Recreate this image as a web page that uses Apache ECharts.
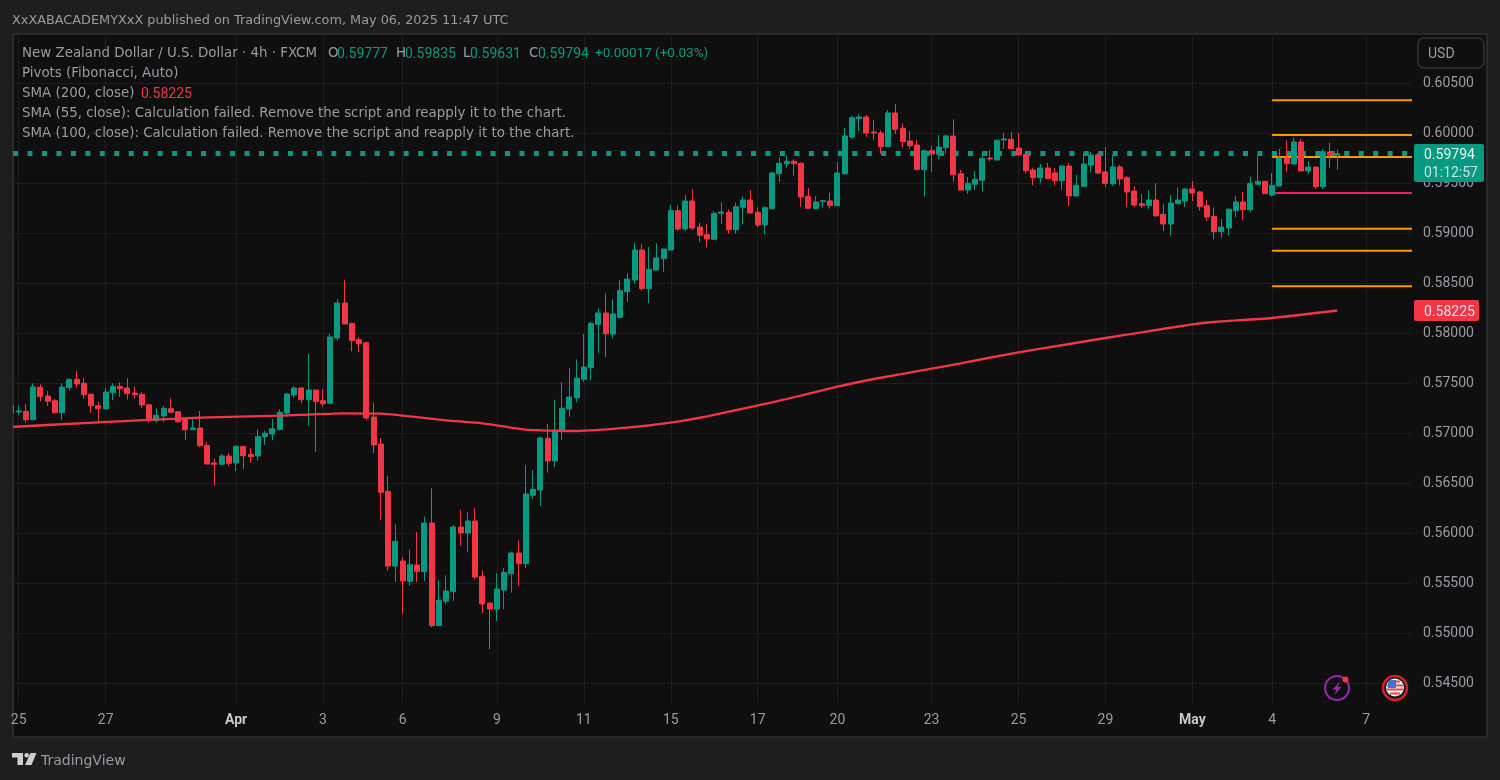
<!DOCTYPE html>
<html style="height: 100%">

<head>
  <meta charset="UTF-8" />
  <title>NZD/USD 4h</title>
  <script src="https://cdn.jsdelivr.net/npm/echarts@6/dist/echarts.min.js"></script>
  <script>
    // candles, oldest first
    const opens = [
      0.57277, 0.57210, 0.57217, 0.57133, 0.57457, 0.57370, 0.57323, 0.57203, 0.57453, 0.57537,
      0.57497, 0.57387, 0.57273, 0.57240, 0.57403, 0.57467, 0.57450, 0.57400, 0.57387, 0.57283,
      0.57123, 0.57170, 0.57243, 0.57213, 0.57140, 0.57033, 0.57050, 0.56877, 0.56700, 0.56687,
      0.56770, 0.56700, 0.56867, 0.56787, 0.56770, 0.56963, 0.56990, 0.57037, 0.57200, 0.57380,
      0.57450, 0.57333, 0.57430, 0.57323, 0.57297, 0.57950, 0.58300, 0.58097, 0.57933, 0.57903,
      0.57160, 0.56890, 0.56417, 0.55670, 0.55720, 0.55517, 0.55680, 0.55613, 0.56100, 0.55073,
      0.55317, 0.55413, 0.56060, 0.56000, 0.56120, 0.55567, 0.55300, 0.55240, 0.55430, 0.55593,
      0.55800, 0.55693, 0.56377, 0.56430, 0.56947, 0.56720, 0.57023, 0.57240, 0.57353, 0.57537,
      0.57653, 0.58087, 0.58200, 0.57990, 0.58153, 0.58413, 0.58530, 0.58830, 0.58443, 0.58630,
      0.58743, 0.58830, 0.59223, 0.59040, 0.59320, 0.59060, 0.58983, 0.58937, 0.59197, 0.59207,
      0.59033, 0.59257, 0.59330, 0.59207, 0.59083, 0.59243, 0.59593, 0.59693, 0.59717, 0.59697,
      0.59367, 0.59243, 0.59313, 0.59320, 0.59273, 0.59593, 0.59960, 0.60143, 0.60160, 0.60010,
      0.60000, 0.59863, 0.60200, 0.60047, 0.59920, 0.59880, 0.59633, 0.59823, 0.59787, 0.59853,
      0.59970, 0.59593, 0.59430, 0.59487, 0.59527, 0.59750, 0.59730, 0.59930, 0.59937, 0.59850,
      0.59787, 0.59630, 0.59553, 0.59650, 0.59600, 0.59523, 0.59670, 0.59370, 0.59467, 0.59680,
      0.59780, 0.59610, 0.59493, 0.59660, 0.59553, 0.59420, 0.59293, 0.59273, 0.59330, 0.59187,
      0.59090, 0.59293, 0.59320, 0.59440, 0.59410, 0.59273, 0.59167, 0.59013, 0.59050, 0.59223,
      0.59310, 0.59233, 0.59487, 0.59517, 0.59380, 0.59470, 0.59750, 0.59690, 0.59910, 0.59620,
      0.59660, 0.59463, 0.59810, 0.59777
    ];
    const closes = [
      0.57203, 0.57220, 0.57133, 0.57460, 0.57363, 0.57317, 0.57203, 0.57460, 0.57537, 0.57490,
      0.57383, 0.57273, 0.57243, 0.57410, 0.57467, 0.57443, 0.57393, 0.57383, 0.57280, 0.57130,
      0.57177, 0.57247, 0.57207, 0.57113, 0.57033, 0.57050, 0.56873, 0.56690, 0.56687, 0.56770,
      0.56697, 0.56867, 0.56773, 0.56763, 0.56963, 0.56997, 0.57043, 0.57207, 0.57390, 0.57450,
      0.57333, 0.57430, 0.57313, 0.57293, 0.57960, 0.58300, 0.58090, 0.57923, 0.57893, 0.57150,
      0.56880, 0.56407, 0.55670, 0.55917, 0.55520, 0.55683, 0.55617, 0.56100, 0.55073, 0.55327,
      0.55420, 0.56060, 0.56000, 0.56120, 0.55560, 0.55290, 0.55240, 0.55440, 0.55607, 0.55800,
      0.55693, 0.56390, 0.56437, 0.56950, 0.56720, 0.57030, 0.57247, 0.57360, 0.57547, 0.57660,
      0.58097, 0.58200, 0.57993, 0.58190, 0.58423, 0.58540, 0.58830, 0.58443, 0.58637, 0.58750,
      0.58840, 0.59223, 0.59040, 0.59320, 0.59050, 0.58977, 0.58940, 0.59197, 0.59210, 0.59033,
      0.59263, 0.59330, 0.59200, 0.59080, 0.59253, 0.59600, 0.59697, 0.59717, 0.59693, 0.59360,
      0.59247, 0.59310, 0.59323, 0.59273, 0.59600, 0.59970, 0.60153, 0.60160, 0.60000, 0.60000,
      0.59863, 0.60200, 0.60037, 0.59913, 0.59873, 0.59633, 0.59823, 0.59790, 0.59860, 0.59970,
      0.59583, 0.59430, 0.59497, 0.59537, 0.59747, 0.59740, 0.59927, 0.59940, 0.59843, 0.59780,
      0.59623, 0.59553, 0.59650, 0.59543, 0.59523, 0.59670, 0.59370, 0.59477, 0.59690, 0.59780,
      0.59600, 0.59497, 0.59660, 0.59540, 0.59410, 0.59280, 0.59273, 0.59330, 0.59173, 0.59090,
      0.59300, 0.59330, 0.59440, 0.59400, 0.59263, 0.59160, 0.59013, 0.59060, 0.59237, 0.59310,
      0.59233, 0.59497, 0.59517, 0.59393, 0.59477, 0.59750, 0.59693, 0.59910, 0.59620, 0.59660,
      0.59463, 0.59813, 0.59780, 0.59794
    ];
    const lows = [
      0.57190, 0.57180, 0.57103, 0.57133, 0.57317, 0.57270, 0.57203, 0.57133, 0.57423, 0.57453,
      0.57343, 0.57200, 0.57103, 0.57240, 0.57327, 0.57363, 0.57333, 0.57343, 0.57250, 0.57103,
      0.57103, 0.57113, 0.57197, 0.57103, 0.56930, 0.57030, 0.56860, 0.56687, 0.56473, 0.56687,
      0.56667, 0.56620, 0.56640, 0.56703, 0.56723, 0.56880, 0.56927, 0.57023, 0.57163, 0.57350,
      0.57300, 0.57073, 0.56813, 0.57263, 0.57297, 0.57923, 0.58090, 0.57817, 0.57807, 0.57130,
      0.56800, 0.56127, 0.55623, 0.55510, 0.55190, 0.55470, 0.55510, 0.55520, 0.55057, 0.55073,
      0.55287, 0.55323, 0.55873, 0.55807, 0.55540, 0.55200, 0.54840, 0.55120, 0.55237, 0.55403,
      0.55470, 0.55650, 0.56340, 0.56270, 0.56603, 0.56660, 0.56930, 0.57163, 0.57307, 0.57510,
      0.57527, 0.57797, 0.57760, 0.57943, 0.58153, 0.58310, 0.58493, 0.58423, 0.58300, 0.58630,
      0.58610, 0.58830, 0.59020, 0.59020, 0.59030, 0.58907, 0.58860, 0.58930, 0.59090, 0.58993,
      0.58993, 0.59090, 0.59197, 0.59060, 0.58993, 0.59237, 0.59507, 0.59650, 0.59573, 0.59260,
      0.59247, 0.59237, 0.59253, 0.59243, 0.59273, 0.59580, 0.59940, 0.60020, 0.59960, 0.59930,
      0.59793, 0.59863, 0.59990, 0.59853, 0.59843, 0.59633, 0.59363, 0.59613, 0.59740, 0.59793,
      0.59513, 0.59430, 0.59393, 0.59430, 0.59413, 0.59720, 0.59730, 0.59840, 0.59837, 0.59780,
      0.59593, 0.59477, 0.59503, 0.59543, 0.59477, 0.59430, 0.59270, 0.59370, 0.59467, 0.59610,
      0.59593, 0.59457, 0.59473, 0.59477, 0.59260, 0.59260, 0.59250, 0.59237, 0.59160, 0.59020,
      0.58973, 0.59293, 0.59260, 0.59320, 0.59223, 0.59120, 0.58937, 0.58953, 0.58973, 0.59160,
      0.59130, 0.59207, 0.59487, 0.59393, 0.59363, 0.59470, 0.59613, 0.59690, 0.59620, 0.59593,
      0.59440, 0.59440, 0.59653, 0.59631
    ];
    const highs = [
      0.57290, 0.57277, 0.57287, 0.57497, 0.57487, 0.57420, 0.57343, 0.57497, 0.57543, 0.57620,
      0.57547, 0.57397, 0.57313, 0.57450, 0.57497, 0.57507, 0.57547, 0.57467, 0.57410, 0.57283,
      0.57247, 0.57270, 0.57350, 0.57213, 0.57153, 0.57160, 0.57220, 0.56907, 0.56743, 0.56790,
      0.56800, 0.56877, 0.56867, 0.56850, 0.57037, 0.57023, 0.57140, 0.57237, 0.57400, 0.57470,
      0.57460, 0.57790, 0.57430, 0.57440, 0.57990, 0.58340, 0.58530, 0.58097, 0.57960, 0.57913,
      0.57307, 0.56950, 0.56570, 0.56087, 0.55760, 0.55837, 0.56010, 0.56167, 0.56447, 0.55527,
      0.55577, 0.56080, 0.56233, 0.56207, 0.56253, 0.55627, 0.55300, 0.55600, 0.55647, 0.55810,
      0.55927, 0.56677, 0.56630, 0.56963, 0.57090, 0.57333, 0.57507, 0.57647, 0.57737, 0.57990,
      0.58113, 0.58247, 0.58393, 0.58337, 0.58527, 0.58600, 0.58907, 0.58890, 0.58860, 0.58897,
      0.58840, 0.59283, 0.59273, 0.59380, 0.59440, 0.59100, 0.59090, 0.59217, 0.59307, 0.59237,
      0.59303, 0.59367, 0.59430, 0.59257, 0.59267, 0.59613, 0.59757, 0.59777, 0.59737, 0.59707,
      0.59450, 0.59370, 0.59323, 0.59400, 0.59710, 0.60050, 0.60170, 0.60190, 0.60180, 0.60133,
      0.60027, 0.60230, 0.60290, 0.60097, 0.60020, 0.59930, 0.59833, 0.59873, 0.59980, 0.59980,
      0.60137, 0.59630, 0.59560, 0.59620, 0.59807, 0.59827, 0.59937, 0.60000, 0.60010, 0.60000,
      0.59823, 0.59653, 0.59690, 0.59700, 0.59650, 0.59670, 0.59700, 0.59580, 0.59800, 0.59810,
      0.59800, 0.59860, 0.59780, 0.59680, 0.59570, 0.59470, 0.59390, 0.59430, 0.59497, 0.59287,
      0.59380, 0.59457, 0.59450, 0.59517, 0.59420, 0.59330, 0.59257, 0.59140, 0.59247, 0.59370,
      0.59410, 0.59563, 0.59770, 0.59517, 0.59600, 0.59843, 0.59927, 0.59957, 0.59940, 0.59720,
      0.59660, 0.59837, 0.59900, 0.59835
    ];

    // SMA 200, sampled along the curve: candle number and value
    const smaBars = [0, 12, 26, 37, 46, 51, 60, 65, 71, 73, 78, 85, 91, 96, 105, 107, 114, 119, 127, 131, 139, 146, 151, 156, 163, 166, 174, 183];
    const smaValues = [
      0.57060, 0.57107, 0.57153, 0.57173, 0.57197, 0.57193, 0.57127, 0.57097, 0.57033, 0.57027,
      0.57020, 0.57053, 0.57103, 0.57166, 0.57307, 0.57340, 0.57463, 0.57540, 0.57643, 0.57697,
      0.57807, 0.57890, 0.57950, 0.58007, 0.58087, 0.58110, 0.58150, 0.58225
    ];

    const pivotLevels = [0.60327, 0.59980, 0.59760, 0.59400, 0.59043, 0.58823, 0.58467];
    const pivotMiddle = 0.59400;
    const pivotStartBar = 174;
    const lastPrice = 0.59794;

    const priceTicks = [0.605, 0.6, 0.595, 0.59, 0.585, 0.58, 0.575, 0.57, 0.565, 0.56, 0.555, 0.55, 0.545];
    const dateBars = [1, 13, 31, 43, 54, 67, 79, 91, 103, 114, 127, 139, 151, 163, 174, 187];
    const dateLabels = ['25', '27', 'Apr', '3', '6', '9', '11', '15', '17', '20', '23', '25', '29', 'May', '4', '7'];

    const UP = '#089981';
    const DOWN = '#f23645';
    const TEXT = '#9a9ca1';
    const FONT = '"DejaVu Sans", sans-serif';
    const NUM_FONT = 'Roboto, sans-serif';
    const X_MIN = 0.214;
    const X_MAX = 193.17;

    function label(x, y, text, fill, font) {
      return {
        type: 'text', x: x, y: y, z: 20,
        style: { text: text, fill: fill || TEXT, font: font || '13.4px ' + FONT, textVerticalAlign: 'middle' }
      };
    }

    function num(x, y, text, fill) {
      return label(x, y, text, fill, '14px ' + NUM_FONT);
    }

    function box(x, y, w, h, fill, stroke, r, z) {
      return {
        type: 'rect', z: z === undefined ? 15 : z,
        shape: { x: x, y: y, width: w, height: h, r: r || 0 },
        style: { fill: fill, stroke: stroke || null, lineWidth: stroke ? 2 : 0 }
      };
    }

    function flagStripes() {
      const stripes = [];
      [[-6.5, 9.5], [-2.5, 16], [1.5, 16], [5.5, 10]].forEach(e => {
        stripes.push(box(1395 - e[1] / 2, 688 + e[0] - 1, e[1], 2, '#e5484d', null, 0, 17));
      });
      return stripes;
    }

    function renderChart() {
      const myChart = echarts.init(document.getElementById('container'), null, { renderer: 'canvas' });

      const graphics = [
        // pane and price scale background
        box(13, 34, 1474, 703, '#0f0f0f', '#2a2a2a', 0, -10),
        // hides the first candle where it leaves the pane
        box(0, 34, 12, 670, '#1e1e1e', null, 0, 10),
        box(12, 34, 1, 670, '#2a2a2a', null, 0, 10),
        // header
        label(12, 21, 'XxXABACADEMYXxX published on TradingView.com, May 06, 2025 11:47 UTC', TEXT, '12.85px ' + FONT),
        label(22, 54, 'New Zealand Dollar / U.S. Dollar · 4h · FXCM'),
        label(328, 54, 'O'), num(337, 54, '0.59777', UP),
        label(396, 54, 'H'), num(405, 54, '0.59835', UP),
        label(463, 54, 'L'), num(470, 54, '0.59631', UP),
        label(529, 54, 'C'), num(538, 54, '0.59794', UP),
        label(595, 54, '+0.00017 (+0.03%)', UP, '13.5px ' + NUM_FONT),
        label(22, 74, 'Pivots (Fibonacci, Auto)'),
        label(22, 94, 'SMA (200, close)'),
        num(141, 94, '0.58225', DOWN),
        label(22, 114, 'SMA (55, close): Calculation failed. Remove the script and reapply it to the chart.'),
        label(22, 134, 'SMA (100, close): Calculation failed. Remove the script and reapply it to the chart.'),
        // currency button
        box(1418, 38, 66, 30, '#0f0f0f', '#2a2a2a', 6),
        num(1428, 54, 'USD'),
        // last value tags
        box(1414, 144, 70, 38, UP, null, 2),
        num(1424, 155, '0.59794', '#e8f5f2'),
        num(1424, 173, '01:12:57', '#c4e6df'),
        box(1414, 300, 65, 21, DOWN, null, 2),
        num(1424, 312, '0.58225', '#fbe3e5'),
        // bolt icon
        { type: 'circle', z: 16, shape: { cx: 1337, cy: 688, r: 12 }, style: { fill: 'none', stroke: '#9c27b0', lineWidth: 2 } },
        { type: 'polygon', z: 16, shape: { points: [[1340, 681.5], [1332.5, 689.5], [1336.3, 689.5], [1334.5, 695], [1341.5, 687], [1337.7, 687]] }, style: { fill: '#9c27b0' } },
        { type: 'circle', z: 17, shape: { cx: 1345.5, cy: 679.5, r: 3 }, style: { fill: '#f23645' } },
        // flag icon
        { type: 'circle', z: 16, shape: { cx: 1395, cy: 688, r: 12 }, style: { fill: '#161616', stroke: '#d3202f', lineWidth: 2.5 } },
        { type: 'circle', z: 16, shape: { cx: 1395, cy: 687.5, r: 9 }, style: { fill: '#f2f2f2' } },
        ...flagStripes(),
        { type: 'rect', z: 18, shape: { x: 1388, y: 680, width: 8, height: 8, r: [3, 0, 0, 0] }, style: { fill: '#4a6fd0' } },
        // footer logo
        box(12, 753, 11, 4.5, '#cfcfcf'),
        box(17.5, 753, 5.5, 12, '#cfcfcf'),
        { type: 'circle', z: 15, shape: { cx: 26.7, cy: 755.3, r: 2.3 }, style: { fill: '#cfcfcf' } },
        { type: 'polygon', z: 15, shape: { points: [[30.5, 753], [36.5, 753], [31.5, 765], [25, 765]] }, style: { fill: '#cfcfcf' } },
        label(41, 761, 'TradingView', TEXT, '14px ' + FONT)
      ];

      const series = [
        {
          type: 'line', name: 'last', z: 1, silent: true, showSymbol: false,
          data: [[X_MIN, lastPrice], [X_MAX, lastPrice]],
          lineStyle: { color: UP, width: 5, type: [5, 9.47] }
        }
      ];

      pivotLevels.forEach(level => {
        series.push({
          type: 'line', z: 2, silent: true, showSymbol: false,
          data: [[pivotStartBar, level], [X_MAX + 0.3, level]],
          lineStyle: { color: level === pivotMiddle ? '#e91e63' : '#ff9800', width: 2 }
        });
      });

      series.push({
        type: 'candlestick', z: 3, barWidth: 5.5,
        encode: { x: 0, y: [1, 2, 3, 4] },
        data: opens.map((o, i) => [i, o, closes[i], lows[i], highs[i]]),
        itemStyle: { color: UP, color0: DOWN, borderColor: UP, borderColor0: DOWN, borderWidth: 1 }
      });

      series.push({
        type: 'line', name: 'SMA 200', z: 4, silent: true, showSymbol: false, smooth: 0.2,
        data: smaBars.map((b, i) => [b, smaValues[i]]),
        lineStyle: { color: DOWN, width: 2.3 }
      });

      const gridLine = { show: true, lineStyle: { color: '#1e1e1e', width: 1 } };

      myChart.setOption({
        animation: false,
        backgroundColor: '#1e1e1e',
        textStyle: { fontFamily: NUM_FONT },
        grid: { left: 13, top: 34, width: 1398, height: 669 },
        xAxis: {
          type: 'value', min: X_MIN, max: X_MAX,
          axisLine: { show: false },
          axisTick: { show: false, customValues: dateBars },
          splitLine: gridLine,
          axisLabel: {
            customValues: dateBars,
            color: TEXT, fontSize: 14, fontFamily: NUM_FONT, margin: 10, hideOverlap: false,
            showMinLabel: true, showMaxLabel: true,
            formatter: v => {
              const text = dateLabels[dateBars.indexOf(v)];
              return text === 'Apr' || text === 'May' ? `{b|${text}}` : text;
            },
            rich: { b: { fontWeight: 'bold', color: '#c8c8c8', fontSize: 14, fontFamily: NUM_FONT } }
          }
        },
        yAxis: {
          type: 'value', position: 'right', min: 0.543, max: 0.6099, scale: true,
          axisLine: { show: false },
          axisTick: { show: false, customValues: priceTicks },
          splitLine: gridLine,
          axisLabel: {
            customValues: priceTicks,
            color: TEXT, fontSize: 14, fontFamily: NUM_FONT, margin: 12, padding: [2, 0, 0, 0],
            formatter: v => v.toFixed(5)
          }
        },
        graphic: graphics,
        series: series
      });
      window.addEventListener('resize', myChart.resize);
    }

    window.addEventListener('load', renderChart);
  </script>
</head>

<body style="height: 100%; margin: 0; background: #1e1e1e">
  <div id="container" style="width: 1500px; height: 780px"></div>
</body>

</html>
